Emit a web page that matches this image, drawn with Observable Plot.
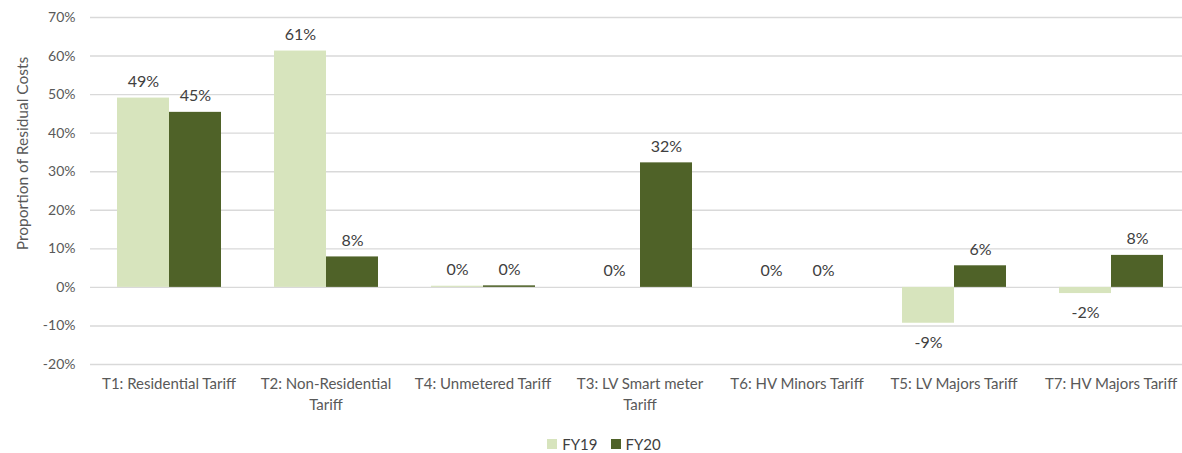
<!DOCTYPE html>
<html>
<head>
<meta charset="utf-8">
<script src="https://cdn.jsdelivr.net/npm/d3@7"></script>
<script src="https://cdn.jsdelivr.net/npm/@observablehq/plot@0.6"></script>
<style>
  html, body { margin: 0; padding: 0; background: #fff; overflow: hidden; }
  #chart { width: 1182px; font-family: Lato, "Open Sans", sans-serif; }
  .legend { display: flex; justify-content: center; align-items: center; gap: 13px;
            height: 33px; padding-top: 7px; font-size: 15px; color: #404040; padding-left: 26px; }
  .legend span.item { display: flex; align-items: center; gap: 5px; }
  .legend i { display: inline-block; width: 10px; height: 10px; }
</style>
</head>
<body>
<div id="chart"></div>
<script>
// Tariff groups, in display order
const categories = [
  "T1: Residential Tariff",
  "T2: Non-Residential Tariff",
  "T4: Unmetered Tariff",
  "T3: LV Smart meter Tariff",
  "T6: HV Minors Tariff",
  "T5: LV Majors Tariff",
  "T7: HV Majors Tariff"
];
// Axis labels (wrapped where the name is long)
const categoryLabels = [
  "T1: Residential Tariff",
  "T2: Non-Residential\nTariff",
  "T4: Unmetered Tariff",
  "T3: LV Smart meter\nTariff",
  "T6: HV Minors Tariff",
  "T5: LV Majors Tariff",
  "T7: HV Majors Tariff"
];
const seriesNames = ["FY19", "FY20"];
const seriesColors = ["#d7e4bd", "#4f6228"];
// Proportion of residual costs (%)
const fy19 = [49.1, 61.3, 0.3, 0, 0, -9.3, -1.6];
const fy20 = [45.4, 7.9, 0.4, 32.3, 0, 5.6, 8.3];
const yTicks = [-20, -10, 0, 10, 20, 30, 40, 50, 60, 70];
const yTitle = "Proportion of Residual Costs";

const rows = [];
categories.forEach((c, i) => {
  rows.push({cat: c, series: "FY19", value: fy19[i]});
  rows.push({cat: c, series: "FY20", value: fy20[i]});
});
const fmt = v => Math.round(v) + "%";
const labelOf = Object.fromEntries(categories.map((c, i) => [c, categoryLabels[i]]));

const chart = Plot.plot({
  width: 1182,
  height: 420,
  marginLeft: 89,
  marginRight: -8,   // the last category runs slightly past the right edge
  marginTop: 17,
  marginBottom: 56,
  style: {fontFamily: "Lato, 'Open Sans', sans-serif", background: "#fff"},
  fx: {domain: categories, padding: 0, axis: null},
  x: {domain: seriesNames, paddingInner: 0, paddingOuter: 0.5, axis: null},
  y: {domain: [-20, 70]},
  color: {domain: seriesNames, range: seriesColors},
  marks: [
    Plot.ruleY(yTicks, {stroke: "#d9d9d9", strokeWidth: 1.4}),
    Plot.axisY({
      ticks: yTicks, tickSize: 0, tickPadding: 15, tickFormat: d => d + "%",
      fontSize: 14, fill: "#595959", label: null
    }),
    // vertical axis title, in the first facet only
    Plot.text([yTitle], {
      fx: () => categories[0], text: d => d, frameAnchor: "top-left",
      rotate: -90, textAnchor: "middle", dx: -74, dy: 136,
      fontSize: 15.5, fill: "#595959"
    }),
    Plot.barY(rows, {fx: "cat", x: "series", y: "value", fill: "series"}),
    Plot.text(rows.filter(d => d.value >= 0), {
      fx: "cat", x: "series", y: "value", text: d => fmt(d.value),
      lineAnchor: "bottom", dy: -11, fontSize: 16, fill: "#404040"
    }),
    Plot.text(rows.filter(d => d.value < 0), {
      fx: "cat", x: "series", y: "value", text: d => fmt(d.value),
      lineAnchor: "top", dy: 13, fontSize: 16, fill: "#404040"
    }),
    Plot.text(categories, {
      fx: d => d, text: d => labelOf[d], frameAnchor: "bottom",
      lineAnchor: "top", dy: 10, lineHeight: 1.4, fontSize: 15, fill: "#595959"
    })
  ]
});
document.getElementById("chart").append(chart);

const legend = document.createElement("div");
legend.className = "legend";
seriesNames.forEach((s, i) => {
  const item = document.createElement("span");
  item.className = "item";
  const sw = document.createElement("i");
  sw.style.background = seriesColors[i];
  item.append(sw, document.createTextNode(s));
  legend.append(item);
});
document.getElementById("chart").append(legend);
</script>
</body>
</html>
